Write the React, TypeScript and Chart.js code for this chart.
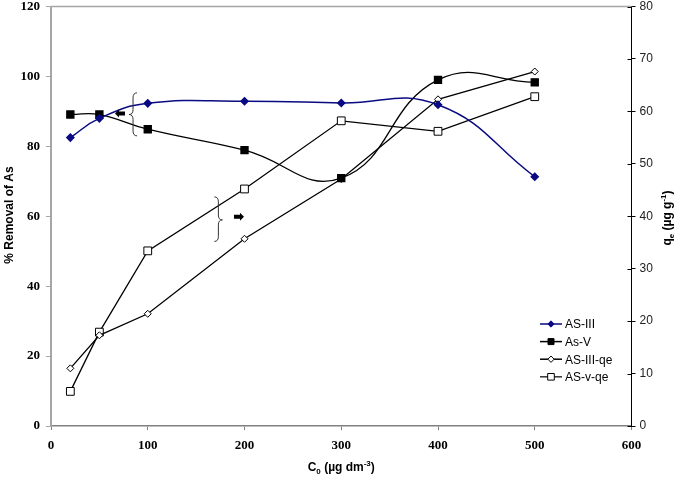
import React, { useEffect, useRef } from 'react';
import { Chart, registerables } from 'chart.js';

Chart.register(...registerables);

// ---- data ----
const concentrations = [20, 50, 100, 200, 300, 400, 500];
const asIIIRemoval = [82.5, 88.0, 92.3, 92.9, 92.4, 91.9, 71.3];
const asVRemoval = [89.1, 89.1, 84.9, 78.9, 70.9, 99.0, 98.3];
const asIIIqe = [11.0, 17.3, 21.4, 35.7, 47.1, 62.3, 67.6];
const asVqe = [6.6, 17.9, 33.4, 45.2, 58.2, 56.2, 62.8];

const seriesNames = ['AS-III', 'As-V', 'AS-III-qe', 'AS-v-qe'];

// annotation braces / arrows in data units: [x, yTop, yBottom, yTip]
const braceLeft = [84.8, 95.3, 83.0, 89.1]; // left axis, "{"
const braceRight = [173, 43.7, 35.2, 39.3]; // right axis, "}"
const arrowLeft = [71.3, 89.4]; // left axis, pointing left
const arrowRight = [194.3, 39.9]; // right axis, pointing right

const NAVY = '#0a0a82';
const SANS = '"Liberation Sans", Arial, Helvetica, sans-serif';
const SERIF = '"Liberation Serif", "Times New Roman", Times, serif';

const toXY = (ys: number[]) => concentrations.map((x, i) => ({ x, y: ys[i] }));

type Part = [string, 'n' | 'sub' | 'sup'];

function drawRich(ctx: CanvasRenderingContext2D, parts: Part[], cx: number, cy: number, rotate: boolean) {
  const fontFor = (k: string) => `bold ${k === 'n' ? 12 : 8}px ${SANS}`;
  ctx.save();
  ctx.translate(cx, cy);
  if (rotate) ctx.rotate(-Math.PI / 2);
  let total = 0;
  parts.forEach(([t, k]) => {
    ctx.font = fontFor(k);
    total += ctx.measureText(t).width;
  });
  let xx = -total / 2;
  ctx.textAlign = 'left';
  ctx.textBaseline = 'alphabetic';
  ctx.fillStyle = '#000';
  parts.forEach(([t, k]) => {
    ctx.font = fontFor(k);
    const dy = k === 'sub' ? 3 : k === 'sup' ? -5 : 0;
    ctx.fillText(t, xx, 4 + dy);
    xx += ctx.measureText(t).width;
  });
  ctx.restore();
}

function drawMarker(ctx: CanvasRenderingContext2D, style: string, x: number, y: number, r: number, fill: string, stroke: string) {
  ctx.save();
  ctx.beginPath();
  if (style === 'rect') {
    const s = Math.SQRT1_2 * r;
    ctx.rect(x - s, y - s, 2 * s, 2 * s);
  } else {
    ctx.moveTo(x, y - r);
    ctx.lineTo(x + r, y);
    ctx.lineTo(x, y + r);
    ctx.lineTo(x - r, y);
    ctx.closePath();
  }
  ctx.fillStyle = fill;
  ctx.fill();
  ctx.strokeStyle = stroke;
  ctx.lineWidth = 1;
  ctx.stroke();
  ctx.restore();
}

function drawBrace(ctx: CanvasRenderingContext2D, bx: number, top: number, bottom: number, tip: number, dir: number) {
  // dir = -1 tip points left "{", dir = +1 tip points right "}"
  const w = 4;
  const r = 5;
  ctx.beginPath();
  ctx.moveTo(bx - dir * w, top);
  ctx.quadraticCurveTo(bx, top, bx, top + r);
  ctx.lineTo(bx, tip - r);
  ctx.quadraticCurveTo(bx, tip, bx + dir * w, tip);
  ctx.quadraticCurveTo(bx, tip, bx, tip + r);
  ctx.lineTo(bx, bottom - r);
  ctx.quadraticCurveTo(bx, bottom, bx - dir * w, bottom);
  ctx.stroke();
}

function drawArrow(ctx: CanvasRenderingContext2D, x: number, y: number, dir: number) {
  ctx.save();
  ctx.translate(x, y);
  ctx.scale(dir, 1);
  ctx.beginPath();
  ctx.moveTo(-5, -2);
  ctx.lineTo(1, -2);
  ctx.lineTo(1, -4);
  ctx.lineTo(5, 0);
  ctx.lineTo(1, 4);
  ctx.lineTo(1, 2);
  ctx.lineTo(-5, 2);
  ctx.closePath();
  ctx.fillStyle = '#000';
  ctx.fill();
  ctx.restore();
}

const legendStyles = [
  { style: 'rectRot', r: 3.5, fill: NAVY, stroke: NAVY, line: NAVY },
  { style: 'rect', r: 5, fill: '#000', stroke: '#000', line: '#000' },
  { style: 'rectRot', r: 3.5, fill: '#fff', stroke: '#000', line: '#000' },
  { style: 'rect', r: 5.5, fill: '#fff', stroke: '#000', line: '#333' },
];

const decorPlugin = {
  id: 'decor',
  afterDraw(chart: any) {
    const { ctx, chartArea, scales } = chart;
    const xs = scales.x;
    const ys = scales.y;
    const y1 = scales.y1;
    ctx.save();
    // top border
    ctx.strokeStyle = '#a6a6a6';
    ctx.lineWidth = 1.5;
    ctx.beginPath();
    ctx.moveTo(chartArea.left, chartArea.top);
    ctx.lineTo(chartArea.right, chartArea.top);
    ctx.stroke();
    // right axis inner ticks
    ctx.strokeStyle = '#000';
    ctx.lineWidth = 1;
    y1.ticks.forEach((t: any) => {
      const py = Math.round(y1.getPixelForValue(t.value)) + 0.5;
      ctx.beginPath();
      ctx.moveTo(chartArea.right - 4, py);
      ctx.lineTo(chartArea.right, py);
      ctx.stroke();
    });
    // braces
    ctx.strokeStyle = '#333';
    ctx.lineWidth = 1;
    drawBrace(ctx, xs.getPixelForValue(braceLeft[0]), ys.getPixelForValue(braceLeft[1]), ys.getPixelForValue(braceLeft[2]), ys.getPixelForValue(braceLeft[3]), -1);
    drawBrace(ctx, xs.getPixelForValue(braceRight[0]), y1.getPixelForValue(braceRight[1]), y1.getPixelForValue(braceRight[2]), y1.getPixelForValue(braceRight[3]), 1);
    drawArrow(ctx, xs.getPixelForValue(arrowLeft[0]), ys.getPixelForValue(arrowLeft[1]), -1);
    drawArrow(ctx, xs.getPixelForValue(arrowRight[0]), y1.getPixelForValue(arrowRight[1]), 1);
    // axis titles
    drawRich(ctx, [['% Removal of As', 'n']], 9, 215, true);
    drawRich(ctx, [['q', 'n'], ['e', 'sub'], [' (\u00b5g g', 'n'], ['-1', 'sup'], [')', 'n']], 667, 218, true);
    drawRich(ctx, [['C', 'n'], ['0', 'sub'], [' (\u00b5g dm', 'n'], ['-3', 'sup'], [')', 'n']], (chartArea.left + chartArea.right) / 2, 467, false);
    // legend
    const lx = 540;
    const ly0 = 324;
    const dy = 17.6;
    ctx.font = `12px ${SANS}`;
    ctx.textBaseline = 'middle';
    ctx.textAlign = 'left';
    seriesNames.forEach((name, i) => {
      const s = legendStyles[i];
      const yy = ly0 + i * dy;
      ctx.strokeStyle = s.line;
      ctx.lineWidth = 1.5;
      ctx.beginPath();
      ctx.moveTo(lx, yy);
      ctx.lineTo(lx + 22, yy);
      ctx.stroke();
      drawMarker(ctx, s.style, lx + 11, yy, s.r * (s.style === 'rect' ? 0.85 : 0.9), s.fill, s.stroke);
      ctx.fillStyle = '#000';
      ctx.fillText(name, lx + 25, yy + 1);
    });
    ctx.restore();
  },
};

export default function App() {
  const ref = useRef<HTMLCanvasElement | null>(null);
  useEffect(() => {
    if (!ref.current) return;
    const chart = new Chart(ref.current, {
      type: 'line',
      data: {
        datasets: [
          {
            label: seriesNames[0],
            data: toXY(asIIIRemoval),
            yAxisID: 'y',
            borderColor: NAVY,
            backgroundColor: NAVY,
            borderWidth: 1.5,
            pointStyle: 'rectRot',
            pointRadius: 3.5,
            pointBackgroundColor: NAVY,
            pointBorderColor: NAVY,
            tension: 0.45,
          },
          {
            label: seriesNames[1],
            data: toXY(asVRemoval),
            yAxisID: 'y',
            borderColor: '#000',
            backgroundColor: '#000',
            borderWidth: 1.3,
            pointStyle: 'rect',
            pointRadius: 5,
            pointBackgroundColor: '#000',
            pointBorderColor: '#000',
            tension: 0.45,
          },
          {
            label: seriesNames[2],
            data: toXY(asIIIqe),
            yAxisID: 'y1',
            borderColor: '#000',
            backgroundColor: '#fff',
            borderWidth: 1.3,
            pointStyle: 'rectRot',
            pointRadius: 3.5,
            pointBackgroundColor: '#fff',
            pointBorderColor: '#000',
            pointBorderWidth: 1,
            tension: 0,
          },
          {
            label: seriesNames[3],
            data: toXY(asVqe),
            yAxisID: 'y1',
            borderColor: '#000',
            backgroundColor: '#fff',
            borderWidth: 1.3,
            pointStyle: 'rect',
            pointRadius: 5.5,
            pointBackgroundColor: '#fff',
            pointBorderColor: '#000',
            pointBorderWidth: 1,
            tension: 0,
          },
        ],
      },
      options: {
        responsive: false,
        animation: false,
        devicePixelRatio: 1,
        layout: { padding: { top: 5, left: 0, right: 0, bottom: 0 } },
        plugins: {
          legend: { display: false },
          tooltip: { enabled: false },
        },
        scales: {
          x: {
            type: 'linear',
            min: 0,
            max: 600,
            afterFit: (s: any) => {
              s.height = 54;
              s.paddingLeft = 0;
              s.paddingRight = 0;
            },
            border: { color: '#808080', width: 1.5 },
            grid: { drawOnChartArea: false, color: '#808080', tickLength: 4 },
            ticks: {
              stepSize: 100,
              color: '#000',
              padding: 8,
              maxRotation: 0,
              font: { family: SERIF, weight: 'bold', size: 13 },
            },
          },
          y: {
            position: 'left',
            min: 0,
            max: 120,
            afterFit: (s: any) => {
              s.width = 51;
              s.paddingTop = 0;
              s.paddingBottom = 0;
            },
            border: { color: '#a6a6a6', width: 2 },
            grid: { drawOnChartArea: false, color: '#a6a6a6', tickLength: 5 },
            ticks: {
              stepSize: 20,
              color: '#000',
              padding: 6,
              font: { family: SERIF, weight: 'bold', size: 13 },
            },
          },
          y1: {
            position: 'right',
            min: 0,
            max: 80,
            afterFit: (s: any) => {
              s.width = 45.5;
              s.paddingTop = 0;
              s.paddingBottom = 0;
            },
            border: { color: '#000', width: 1 },
            grid: { drawOnChartArea: false, color: '#000', tickLength: 4 },
            ticks: {
              stepSize: 10,
              color: '#222',
              padding: 4,
              font: { family: SANS, size: 12 },
            },
          },
        },
      },
      plugins: [decorPlugin],
    } as any);
    return () => chart.destroy();
  }, []);
  return (
    <div style={{ position: 'absolute', left: 0, top: 0, width: 677, height: 480, background: '#fff' }}>
      <canvas ref={ref} width={677} height={480} style={{ display: 'block' }} />
    </div>
  );
}
